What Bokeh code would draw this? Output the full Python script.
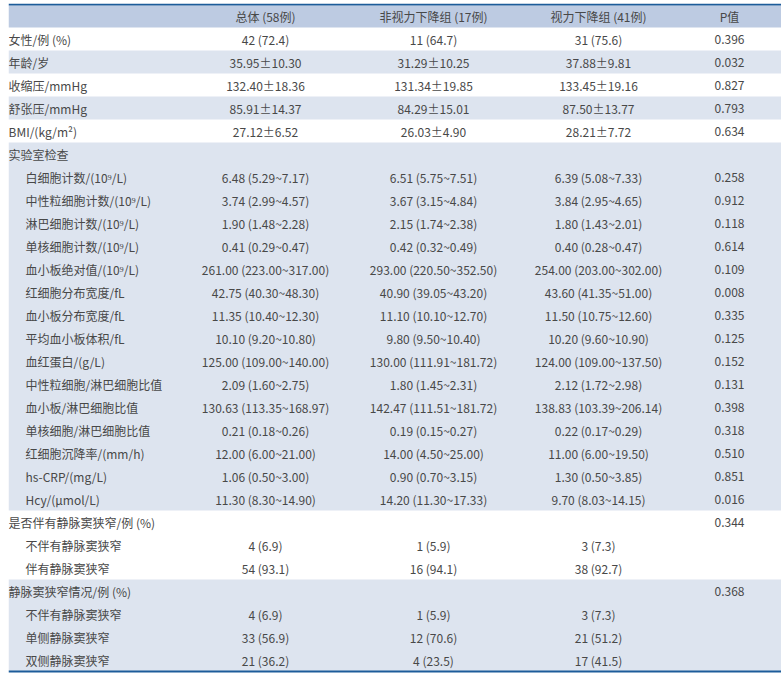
from bokeh.plotting import figure
from bokeh.models import Range1d, ColumnDataSource
from bokeh.core.properties import value
from bokeh.embed import file_html
from bokeh.resources import INLINE

# ---------------- data ----------------
headers = ["", "总体 (58例)", "非视力下降组 (17例)", "视力下降组 (41例)", "P值"]

labels = [
    "女性/例 (%)", "年龄/岁", "收缩压/mmHg", "舒张压/mmHg", "BMI/(kg/m²)",
    "实验室检查",
    "白细胞计数/(10⁹/L)", "中性粒细胞计数/(10⁹/L)", "淋巴细胞计数/(10⁹/L)",
    "单核细胞计数/(10⁹/L)", "血小板绝对值/(10⁹/L)", "红细胞分布宽度/fL",
    "血小板分布宽度/fL", "平均血小板体积/fL", "血红蛋白/(g/L)",
    "中性粒细胞/淋巴细胞比值", "血小板/淋巴细胞比值", "单核细胞/淋巴细胞比值",
    "红细胞沉降率/(mm/h)", "hs-CRP/(mg/L)", "Hcy/(μmol/L)",
    "是否伴有静脉窦狭窄/例 (%)", "不伴有静脉窦狭窄", "伴有静脉窦狭窄",
    "静脉窦狭窄情况/例 (%)", "不伴有静脉窦狭窄", "单侧静脉窦狭窄", "双侧静脉窦狭窄",
]
level = [0, 0, 0, 0, 0, 0,
         1, 1, 1, 1, 1, 1, 1, 1, 1, 1, 1, 1, 1, 1, 1,
         0, 1, 1, 0, 1, 1, 1]
total = [
    "42 (72.4)", "35.95±10.30", "132.40±18.36", "85.91±14.37", "27.12±6.52",
    "",
    "6.48 (5.29~7.17)", "3.74 (2.99~4.57)", "1.90 (1.48~2.28)", "0.41 (0.29~0.47)",
    "261.00 (223.00~317.00)", "42.75 (40.30~48.30)", "11.35 (10.40~12.30)",
    "10.10 (9.20~10.80)", "125.00 (109.00~140.00)", "2.09 (1.60~2.75)",
    "130.63 (113.35~168.97)", "0.21 (0.18~0.26)", "12.00 (6.00~21.00)",
    "1.06 (0.50~3.00)", "11.30 (8.30~14.90)",
    "", "4 (6.9)", "54 (93.1)",
    "", "4 (6.9)", "33 (56.9)", "21 (36.2)",
]
no_loss = [
    "11 (64.7)", "31.29±10.25", "131.34±19.85", "84.29±15.01", "26.03±4.90",
    "",
    "6.51 (5.75~7.51)", "3.67 (3.15~4.84)", "2.15 (1.74~2.38)", "0.42 (0.32~0.49)",
    "293.00 (220.50~352.50)", "40.90 (39.05~43.20)", "11.10 (10.10~12.70)",
    "9.80 (9.50~10.40)", "130.00 (111.91~181.72)", "1.80 (1.45~2.31)",
    "142.47 (111.51~181.72)", "0.19 (0.15~0.27)", "14.00 (4.50~25.00)",
    "0.90 (0.70~3.15)", "14.20 (11.30~17.33)",
    "", "1 (5.9)", "16 (94.1)",
    "", "1 (5.9)", "12 (70.6)", "4 (23.5)",
]
loss = [
    "31 (75.6)", "37.88±9.81", "133.45±19.16", "87.50±13.77", "28.21±7.72",
    "",
    "6.39 (5.08~7.33)", "3.84 (2.95~4.65)", "1.80 (1.43~2.01)", "0.40 (0.28~0.47)",
    "254.00 (203.00~302.00)", "43.60 (41.35~51.00)", "11.50 (10.75~12.60)",
    "10.20 (9.60~10.90)", "124.00 (109.00~137.50)", "2.12 (1.72~2.98)",
    "138.83 (103.39~206.14)", "0.22 (0.17~0.29)", "11.00 (6.00~19.50)",
    "1.30 (0.50~3.85)", "9.70 (8.03~14.15)",
    "", "3 (7.3)", "38 (92.7)",
    "", "3 (7.3)", "21 (51.2)", "17 (41.5)",
]
p_values = [
    "0.396", "0.032", "0.827", "0.793", "0.634",
    "",
    "0.258", "0.912", "0.118", "0.614", "0.109", "0.008", "0.335", "0.125",
    "0.152", "0.131", "0.398", "0.318", "0.510", "0.851", "0.016",
    "0.344", "", "",
    "0.368", "", "", "",
]
shaded = [0, 1, 0, 1, 0,
          1, 1, 1, 1, 1, 1, 1, 1, 1, 1, 1, 1, 1, 1, 1, 1,
          0, 0, 0,
          1, 1, 1, 1]

# ---------------- layout ----------------
W, H = 773, 671
ROW_H = 23.0
HEAD_TOP, HEAD_BOT = 2.0, 24.0
col_x = [0, 257, 425, 590, 721]
indent = 17
FONT = value("Noto Sans CJK SC")
TXT = "#484848"
SHADE = "#dde4ef"
HEAD = "#bdcbe2"
RULE = "#1d5c9a"

p = figure(width=W, height=H, output_backend="svg", toolbar_location=None,
           x_range=Range1d(0, W), y_range=Range1d(H, 0),
           min_border=0, outline_line_color=None,
           styles={"margin-left": "8px", "margin-top": "3px"})
p.axis.visible = False
p.grid.visible = False
p.background_fill_color = "white"
p.border_fill_color = "white"

n = len(labels)
row_top = [HEAD_BOT + i * ROW_H for i in range(n)]
row_mid = [t + ROW_H / 2 for t in row_top]

# shaded blocks (merge consecutive shaded rows)
blocks = []
i = 0
while i < n:
    if shaded[i]:
        j = i
        while j + 1 < n and shaded[j + 1]:
            j += 1
        blocks.append((row_top[i], row_top[j] + ROW_H))
        i = j + 1
    else:
        i += 1
p.quad(left=[0] * len(blocks), right=[W] * len(blocks),
       top=[b[0] for b in blocks], bottom=[b[1] for b in blocks],
       fill_color=SHADE, line_color=None)

# header
p.quad(left=[0], right=[W], top=[HEAD_TOP], bottom=[HEAD_BOT],
       fill_color=HEAD, line_color=None)
# rules
end_y = HEAD_BOT + n * ROW_H
p.quad(left=[0, 0], right=[W, W], top=[0, end_y - 1], bottom=[HEAD_TOP, end_y + 1],
       fill_color=RULE, line_color=None)

head_mid = (HEAD_TOP + HEAD_BOT) / 2
p.text(x=col_x[1:], y=[head_mid] * 4, text=headers[1:],
       text_align="center", text_baseline="middle",
       text_font=FONT, text_font_size="12px", text_color=TXT)

src_lab = ColumnDataSource(dict(x=[col_x[0] + indent * lv for lv in level],
                                y=row_mid, t=labels))
p.text(x="x", y="y", text="t", source=src_lab, text_align="left",
       text_baseline="middle", text_font=FONT, text_font_size="12px",
       text_color=TXT)

for cx, col in zip(col_x[1:], [total, no_loss, loss, p_values]):
    src = ColumnDataSource(dict(x=[cx] * n, y=row_mid, t=col))
    p.text(x="x", y="y", text="t", source=src, text_align="center",
           text_baseline="middle", text_font=FONT, text_font_size="12px",
           text_color=TXT)

open("out.html", "w").write(file_html(p, INLINE))
